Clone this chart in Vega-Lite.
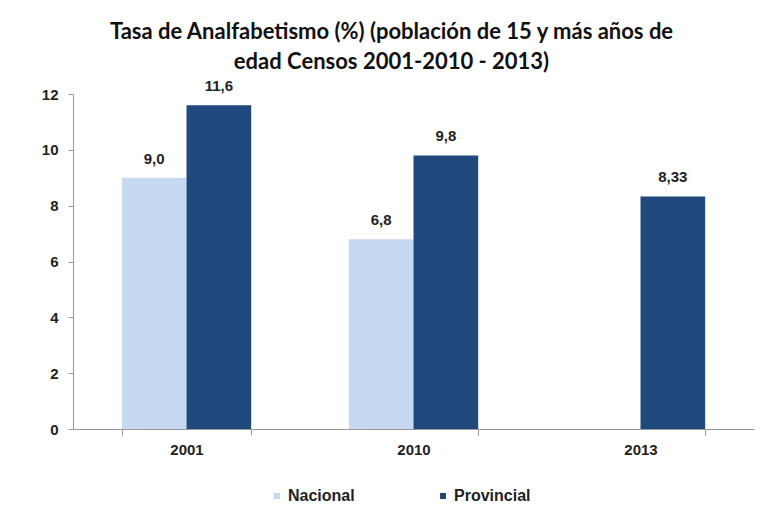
{
  "$schema": "https://vega.github.io/schema/vega-lite/v6.json",
  "width": 681,
  "height": 335,
  "padding": {"left": 41, "top": 21, "right": 15, "bottom": 5},
  "background": "white",
  "title": {
    "text": ["Tasa de Analfabetismo (%) (población de 15 y más años de", "edad Censos 2001-2010 - 2013)"],
    "font": "Lato",
    "fontSize": 22,
    "fontWeight": "bold",
    "color": "#111111",
    "lineHeight": 30,
    "anchor": "middle",
    "dx": -22,
    "offset": 5
  },
  "data": {
    "values": [
      {"year": "2001", "serie": "Nacional", "value": 9.0, "label": "9,0"},
      {"year": "2001", "serie": "Provincial", "value": 11.6, "label": "11,6"},
      {"year": "2010", "serie": "Nacional", "value": 6.8, "label": "6,8"},
      {"year": "2010", "serie": "Provincial", "value": 9.8, "label": "9,8"},
      {"year": "2013", "serie": "Provincial", "value": 8.33, "label": "8,33"}
    ]
  },
  "encoding": {
    "x": {
      "field": "year", "type": "nominal",
      "scale": {"paddingInner": 0.43, "paddingOuter": 0.215},
      "axis": {
        "title": null, "labelAngle": 0, "labelFont": "Liberation Sans", "labelFontSize": 15,
        "labelFontWeight": "bold", "labelColor": "#222222", "labelPadding": 7,
        "domainColor": "#999999", "tickColor": "#999999", "tickBand": "extent", "tickSize": 6
      }
    },
    "xOffset": {"field": "serie", "type": "nominal", "scale": {"domain": ["Nacional", "Provincial"]}},
    "y": {
      "field": "value", "type": "quantitative",
      "scale": {"domain": [0, 12]},
      "axis": {
        "title": null, "values": [0, 2, 4, 6, 8, 10, 12], "labelOverlap": false, "grid": false,
        "labelFont": "Liberation Sans", "labelFontSize": 15, "labelFontWeight": "bold",
        "labelColor": "#222222", "labelPadding": 10, "domainColor": "#999999",
        "tickColor": "#999999", "tickSize": 5
      }
    }
  },
  "layer": [
    {
      "mark": {"type": "bar"},
      "encoding": {
        "color": {
          "field": "serie", "type": "nominal",
          "scale": {"domain": ["Nacional", "Provincial"], "range": ["#c6d9f1", "#1f497d"]},
          "legend": {
            "title": null, "orient": "none", "legendX": 196, "legendY": 394, "direction": "horizontal",
            "symbolType": "square", "symbolSize": 36, "labelFont": "Liberation Sans",
            "labelFontSize": 16, "labelFontWeight": "bold", "labelColor": "#222222",
            "columnPadding": 80, "labelOffset": 3
          }
        }
      }
    },
    {
      "mark": {"type": "text", "dy": -19, "font": "Liberation Sans", "fontSize": 15, "fontWeight": "bold", "color": "#222222"},
      "encoding": {"text": {"field": "label"}}
    }
  ],
  "config": {"view": {"stroke": null}}
}
